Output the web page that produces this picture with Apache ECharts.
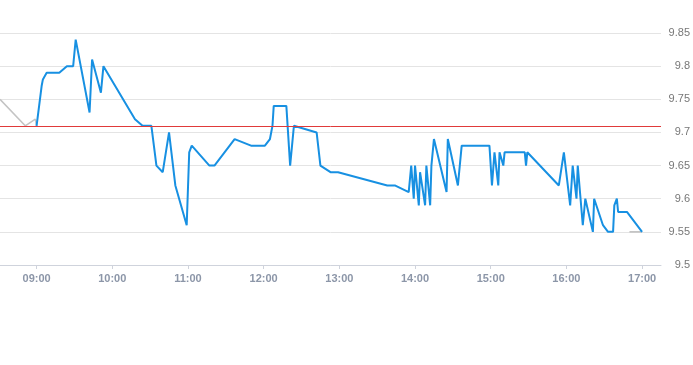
<!DOCTYPE html>
<html>
<head>
<meta charset="utf-8">
<script src="https://cdn.jsdelivr.net/npm/echarts@6/dist/echarts.min.js"></script>
<style>
html,body{margin:0;padding:0;background:#fff;}
#chart{width:693px;height:365px;}
</style>
</head>
<body>
<div id="chart"></div>
<script>
// ---- data ----
const times = ['09:00','09:04','09:05','09:08','09:18','09:24','09:29','09:31','09:42','09:44','09:51','09:53',
  '10:18','10:24','10:31','10:35','10:40','10:45','10:50','10:59','11:01','11:03','11:17','11:21','11:37','11:50',
  '12:01','12:05','12:07','12:08','12:18','12:21','12:24','12:42','12:45','12:53','12:59','13:38','13:44','13:55',
  '13:57','13:59','14:00','14:03','14:04','14:08','14:09','14:12','14:13','14:14','14:15','14:25','14:26','14:34',
  '14:37','14:59','15:01','15:03','15:06','15:07','15:10','15:11','15:27','15:28','15:29','15:54','15:58','16:03',
  '16:05','16:08','16:09','16:13','16:15','16:21','16:22','16:29','16:33','16:37','16:38','16:40','16:41','16:48','17:00'];
const prices = [9.71,9.77,9.78,9.79,9.79,9.80,9.80,9.84,9.73,9.81,9.76,9.80,
  9.72,9.71,9.71,9.65,9.64,9.70,9.62,9.56,9.67,9.68,9.65,9.65,9.69,9.68,
  9.68,9.69,9.71,9.74,9.74,9.65,9.71,9.70,9.65,9.64,9.64,9.62,9.62,9.61,
  9.65,9.60,9.65,9.59,9.64,9.59,9.65,9.59,9.65,9.65,9.69,9.61,9.69,9.62,
  9.68,9.68,9.62,9.67,9.62,9.67,9.65,9.67,9.67,9.65,9.67,9.62,9.67,9.59,
  9.65,9.60,9.65,9.56,9.60,9.55,9.60,9.56,9.55,9.55,9.59,9.60,9.58,9.58,9.55];
const preTimes = ['08:31','08:51','08:59','09:00'];
const prePrices = [9.75,9.71,9.72,9.71];
const postTimes = ['16:50','17:00'];
const postPrices = [9.55,9.55];
const prevClose = 9.71;
const xTickLabels = ['09:00','10:00','11:00','12:00','13:00','14:00','15:00','16:00','17:00'];
const yTickLabels = ['9.5','9.55','9.6','9.65','9.7','9.75','9.8','9.85'];
const xStart = '08:31', xEnd = '17:15';

// ---- helpers ----
function toMin(s){const p=s.split(':');return +p[0]*60 + +p[1];}
function fmt(m){const h=Math.floor(m/60),mm=Math.round(m%60);return (h<10?'0':'')+h+':'+(mm<10?'0':'')+mm;}
function pairs(t,v){return t.map((x,i)=>[toMin(x),v[i]]);}

const chart = echarts.init(document.getElementById('chart'));
chart.setOption({
  animation:false,
  grid:{left:0,right:30,top:33,bottom:100},
  xAxis:{
    type:'value',
    min:toMin(xStart), max:toMin(xEnd),
    axisLine:{show:true,lineStyle:{color:'#cfd3dc',width:1}},
    axisTick:{show:true,customValues:xTickLabels.map(toMin),length:4,lineStyle:{color:'#cfd3dc'}},
    axisLabel:{customValues:xTickLabels.map(toMin),formatter:v=>fmt(v),color:'#8c96a8',fontSize:11,fontWeight:'bold',fontFamily:'Liberation Sans, Arial, sans-serif',margin:8},
    splitLine:{show:false}
  },
  yAxis:{
    type:'value',position:'right',
    min:+yTickLabels[0], max:+yTickLabels[yTickLabels.length-1], interval:0.05,
    axisLine:{show:false},axisTick:{show:false},
    axisLabel:{align:'right',margin:29,color:'#777',fontSize:11,fontFamily:'Liberation Sans, Arial, sans-serif',
      formatter:v=>{const s=v.toFixed(2).replace(/0$/,'');return s;}},
    splitLine:{lineStyle:{color:'#e4e4e4',width:1}}
  },
  series:[
    {type:'line',data:pairs(preTimes,prePrices),showSymbol:false,lineStyle:{color:'#c4c4c4',width:1.6},z:1},
    {type:'line',data:pairs(postTimes,postPrices),showSymbol:false,lineStyle:{color:'#c4c4c4',width:1.6},z:1},
    {type:'line',data:[],z:2,
      markLine:{silent:true,symbol:['none','none'],label:{show:false},lineStyle:{color:'#e03a3a',type:'solid',width:1},data:[{yAxis:prevClose}]}},
    {type:'line',data:pairs(times,prices),showSymbol:false,lineStyle:{color:'#1790e2',width:2},z:3}
  ]
});
</script>
</body>
</html>
